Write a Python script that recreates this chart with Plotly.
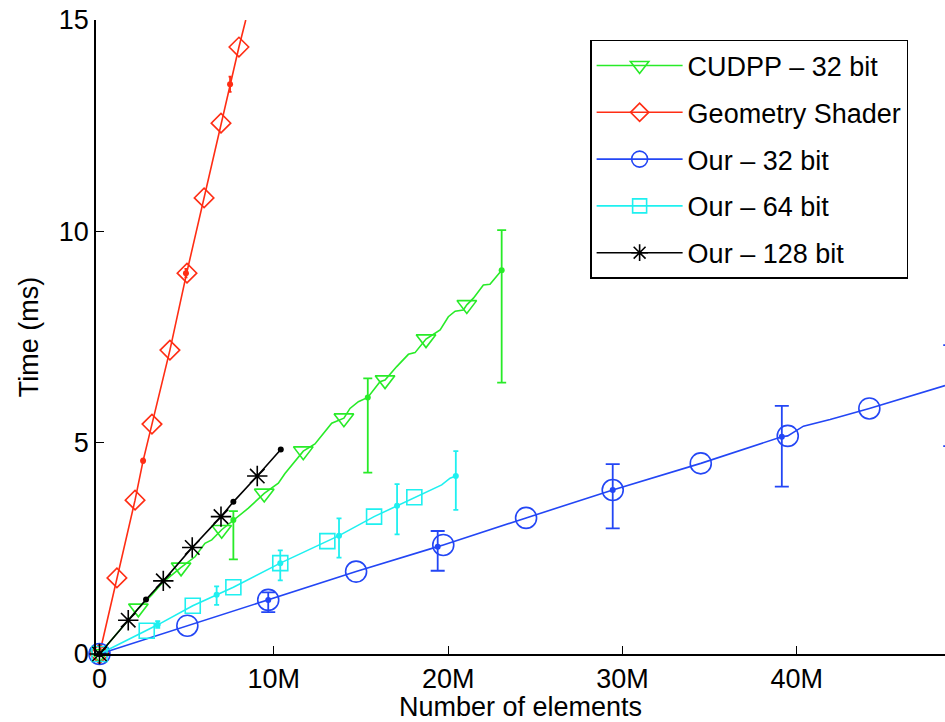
import plotly.graph_objects as go

# ---------------- data (x in millions of elements, y in ms) ----------------
# CUDPP - 32 bit
cudpp_line_x = [0, 0.5, 1.2, 2.23, 3.0, 3.57, 4.68, 5.48, 6.05, 6.44, 7.01, 7.68, 8.54, 9.45, 10.26,
                10.64, 11.22, 11.69, 12.36, 12.75, 13.32, 14.02, 14.37, 14.85, 15.39, 16.09, 16.38,
                17.05, 17.72, 18.10, 18.73, 19.54, 20.01, 20.40, 20.87, 21.07, 21.45, 22.02, 22.40, 23.07]
cudpp_line_y = [0, 0.24, 0.58, 1.08, 1.40, 1.67, 2.05, 2.30, 2.62, 2.70, 2.94, 3.17, 3.45, 3.80, 4.04,
                4.27, 4.55, 4.80, 4.97, 5.18, 5.46, 5.58, 5.81, 5.97, 6.07, 6.44, 6.48,
                6.80, 7.09, 7.13, 7.45, 7.67, 7.98, 8.11, 8.14, 8.26, 8.42, 8.73, 8.75, 9.08]
cudpp_mark_x = [0, 2.23, 4.68, 7.01, 9.45, 11.69, 14.02, 16.38, 18.73, 21.07]
cudpp_mark_y = [0, 1.08, 2.05, 2.94, 3.80, 4.80, 5.58, 6.48, 7.45, 8.26]
cudpp_err_x = [0, 7.68, 15.39, 23.07]
cudpp_err_y = [0, 3.17, 6.07, 9.08]
cudpp_err_plus = [0, 0.21, 0.45, 0.95]
cudpp_err_minus = [0, 0.93, 1.78, 2.66]

# Geometry Shader
geo_line_x = [0, 1.0, 2.04, 2.5, 3.01, 4.04, 5.0, 6.0, 6.97, 7.49, 8.0, 8.39]
geo_line_y = [0, 1.80, 3.64, 4.57, 5.44, 7.19, 9.01, 10.79, 12.56, 13.48, 14.36, 15.0]
geo_mark_x = [0, 1.0, 2.04, 3.01, 4.04, 5.02, 6.0, 6.97, 8.0]
geo_mark_y = [0, 1.80, 3.64, 5.44, 7.19, 9.01, 10.79, 12.56, 14.36]
geo_err_x = [0, 2.5, 4.96, 7.49]
geo_err_y = [0, 4.57, 9.01, 13.48]
geo_err_plus = [0, 0.05, 0.10, 0.18]
geo_err_minus = [0, 0.05, 0.10, 0.18]

# Our - 32 bit
o32_line_x = [0, 5.04, 9.68, 14.72, 19.40, 19.72, 24.47, 29.44, 34.49, 39.14, 39.48, 40.38, 41.91, 44.16, 48.5]
o32_line_y = [0, 0.67, 1.28, 1.95, 2.54, 2.58, 3.22, 3.88, 4.51, 5.14, 5.16, 5.39, 5.55, 5.81, 6.35]
o32_mark_x = [0, 5.04, 9.68, 14.72, 19.72, 24.47, 29.44, 34.49, 39.48, 44.16]
o32_mark_y = [0, 0.67, 1.28, 1.95, 2.58, 3.22, 3.88, 4.51, 5.16, 5.81]
o32_err_x = [0, 9.68, 19.40, 29.44, 39.14, 48.8]
o32_err_y = [0, 1.28, 2.54, 3.88, 5.14, 6.39]
o32_err_plus = [0, 0.18, 0.37, 0.61, 0.73, 0.92]
o32_err_minus = [0, 0.29, 0.57, 0.91, 1.18, 1.47]

# Our - 64 bit
o64_line_x = [0, 2.71, 3.34, 5.35, 6.72, 7.68, 10.37, 13.07, 13.74, 15.75, 17.07, 18.06, 18.77, 19.63, 20.11, 20.44]
o64_line_y = [0, 0.55, 0.69, 1.14, 1.40, 1.58, 2.15, 2.67, 2.80, 3.25, 3.51, 3.71, 3.84, 4.00, 4.16, 4.21]
o64_mark_x = [0, 2.71, 5.35, 7.68, 10.37, 13.07, 15.75, 18.06]
o64_mark_y = [0, 0.55, 1.14, 1.58, 2.15, 2.67, 3.25, 3.71]
o64_err_x = [0, 3.34, 6.72, 10.37, 13.74, 17.07, 20.44]
o64_err_y = [0, 0.69, 1.40, 2.15, 2.80, 3.51, 4.21]
o64_err_plus = [0, 0.09, 0.20, 0.30, 0.41, 0.51, 0.59]
o64_err_minus = [0, 0.07, 0.24, 0.41, 0.52, 0.68, 0.80]

# Our - 128 bit
o128_line_x = [0, 1.65, 2.67, 3.66, 5.32, 6.97, 7.68, 9.05, 10.4]
o128_line_y = [0, 0.80, 1.29, 1.73, 2.52, 3.25, 3.60, 4.21, 4.84]
o128_mark_x = [0, 1.65, 3.66, 5.32, 6.97, 9.05]
o128_mark_y = [0, 0.80, 1.73, 2.52, 3.25, 4.21]
o128_err_x = [0, 2.67, 7.68, 10.4]
o128_err_y = [0, 1.29, 3.60, 4.84]
o128_err_plus = [0, 0.02, 0.02, 0.02]
o128_err_minus = [0, 0.02, 0.02, 0.02]

x_tickvals = [0, 10, 20, 30, 40]
x_ticktext = ["0", "10M", "20M", "30M", "40M"]
y_tickvals = [0, 5, 10, 15]
y_ticktext = ["0", "5", "10", "15"]
x_title = "Number of elements"
y_title = "Time (ms)"

FONT = "Liberation Sans, Arial, Helvetica, sans-serif"
FS = 27

series = [
    dict(name="CUDPP – 32 bit", color="rgb(40,235,40)", symbol="triangle-down-open", msize=17, lsize=16,
         lx=cudpp_line_x, ly=cudpp_line_y, mx=cudpp_mark_x, my=cudpp_mark_y,
         ex=cudpp_err_x, ey=cudpp_err_y, ep=cudpp_err_plus, em=cudpp_err_minus, cap=4.5),
    dict(name="Geometry Shader", color="rgb(255,45,20)", symbol="diamond-open", msize=15, lsize=14,
         lx=geo_line_x, ly=geo_line_y, mx=geo_mark_x, my=geo_mark_y,
         ex=geo_err_x, ey=geo_err_y, ep=geo_err_plus, em=geo_err_minus, cap=1.5),
    dict(name="Our – 32 bit", color="rgb(35,70,245)", symbol="circle-open", msize=21, lsize=16,
         lx=o32_line_x, ly=o32_line_y, mx=o32_mark_x, my=o32_mark_y,
         ex=o32_err_x, ey=o32_err_y, ep=o32_err_plus, em=o32_err_minus, cap=7),
    dict(name="Our – 64 bit", color="rgb(30,240,240)", symbol="square-open", msize=15, lsize=14,
         lx=o64_line_x, ly=o64_line_y, mx=o64_mark_x, my=o64_mark_y,
         ex=o64_err_x, ey=o64_err_y, ep=o64_err_plus, em=o64_err_minus, cap=2.5),
    dict(name="Our – 128 bit", color="black", symbol="asterisk-open", msize=17, lsize=14,
         lx=o128_line_x, ly=o128_line_y, mx=o128_mark_x, my=o128_mark_y,
         ex=o128_err_x, ey=o128_err_y, ep=o128_err_plus, em=o128_err_minus, cap=2),
]

fig = go.Figure()
for i, s in enumerate(series):
    g = "g%d" % i
    fig.add_trace(go.Scatter(x=s["lx"], y=s["ly"], mode="lines", legendgroup=g, showlegend=False,
                             line=dict(color=s["color"], width=1.6), hoverinfo="skip"))
    fig.add_trace(go.Scatter(x=s["mx"], y=s["my"], mode="markers", legendgroup=g, showlegend=False,
                             cliponaxis=False,
                             marker=dict(symbol=s["symbol"], size=s["msize"], color=s["color"],
                                         line=dict(color=s["color"], width=1.6))))
    fig.add_trace(go.Scatter(x=s["ex"], y=s["ey"], mode="markers", legendgroup=g, showlegend=False,
                             cliponaxis=False,
                             marker=dict(symbol="circle", size=6, color=s["color"]),
                             error_y=dict(type="data", symmetric=False, array=s["ep"], arrayminus=s["em"],
                                          visible=True, color=s["color"], thickness=1.8, width=s["cap"])))
    fig.add_trace(go.Scatter(x=[None], y=[None], mode="lines+markers", name=s["name"], legendgroup=g,
                             line=dict(color=s["color"], width=1.6),
                             marker=dict(symbol=s["symbol"], size=s["lsize"], color=s["color"],
                                         line=dict(color=s["color"], width=1.6))))

fig.update_layout(
    width=945, height=722,
    margin=dict(l=96, r=0, t=20, b=68),
    paper_bgcolor="white", plot_bgcolor="white",
    font=dict(family=FONT, size=FS, color="black"),
    showlegend=True,
    legend=dict(x=0.582, y=0.9685, xanchor="left", yanchor="top",
                bordercolor="black", borderwidth=1.5, bgcolor="white",
                font=dict(family=FONT, size=FS, color="black"),
                itemwidth=86, tracegroupgap=8.7, traceorder="grouped"),
    xaxis=dict(range=[-0.2, 48.5], tickvals=x_tickvals, ticktext=x_ticktext,
               showline=True, linecolor="black", linewidth=1.5, mirror=False,
               ticks="inside", ticklen=8, tickwidth=1.2, tickcolor="black",
               showgrid=False, zeroline=False, automargin=False,
               title=dict(text=x_title, standoff=12,
                          font=dict(family=FONT, size=FS))),
    yaxis=dict(range=[0, 15], tickvals=y_tickvals, ticktext=y_ticktext,
               showline=True, linecolor="black", linewidth=1.5, mirror=False,
               ticks="inside", ticklen=8, tickwidth=1.2, tickcolor="black",
               showgrid=False, zeroline=False, automargin=False,
               title=dict(text=y_title, standoff=12,
                          font=dict(family=FONT, size=FS))),
)

# remove the default 8px page margin so the 945x722 figure fills the window exactly
fig.write_html("out.html", config={"displayModeBar": False},
               post_script="document.body.style.margin='0';document.body.style.overflow='hidden';")
